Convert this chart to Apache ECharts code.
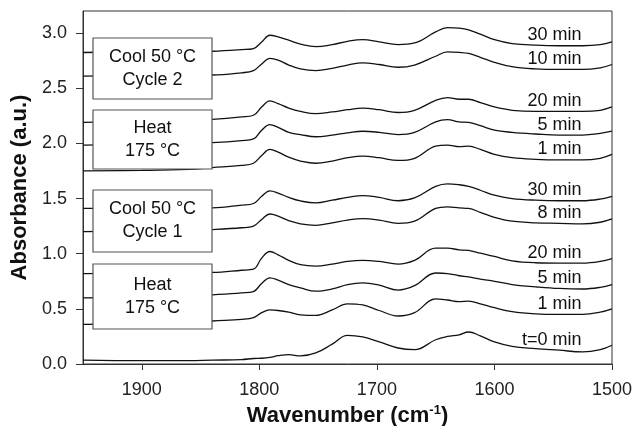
<!DOCTYPE html>
<html lang="en">
<head>
<meta charset="UTF-8" />
<title>FTIR spectra</title>
<script src="https://cdn.jsdelivr.net/npm/echarts@6/dist/echarts.min.js"></script>
</head>
<body style="margin:0">
<div id="main" style="width:635px;height:426px"></div>
<script>
// wavenumber grid (cm-1) shared by all spectra
const wavenumbers = [1950, 1900, 1860, 1840, 1815, 1805, 1798, 1791, 1784, 1775, 1765, 1752, 1738, 1725, 1712, 1698, 1682, 1668, 1650, 1640, 1630, 1622, 1612, 1600, 1585, 1565, 1545, 1525, 1510, 1500];

const cool2_30 = [2.824, 2.83, 2.832, 2.835, 2.85, 2.86, 2.92, 2.98, 2.965, 2.935, 2.90, 2.877, 2.895, 2.925, 2.94, 2.92, 2.895, 2.91, 3.01, 3.05, 3.045, 3.03, 2.99, 2.94, 2.905, 2.89, 2.885, 2.885, 2.895, 2.92];
const cool2_10 = [2.61, 2.615, 2.62, 2.62, 2.64, 2.66, 2.72, 2.77, 2.755, 2.71, 2.675, 2.66, 2.68, 2.71, 2.73, 2.715, 2.69, 2.71, 2.79, 2.83, 2.825, 2.815, 2.78, 2.735, 2.695, 2.675, 2.67, 2.67, 2.685, 2.715];
const heat2_20 = [2.19, 2.20, 2.21, 2.218, 2.24, 2.255, 2.33, 2.385, 2.36, 2.32, 2.29, 2.27, 2.285, 2.305, 2.32, 2.305, 2.28, 2.30, 2.39, 2.415, 2.40, 2.40, 2.37, 2.33, 2.30, 2.29, 2.29, 2.29, 2.30, 2.33];
const heat2_5 = [1.985, 1.99, 2.0, 2.006, 2.025, 2.04, 2.12, 2.17, 2.145, 2.10, 2.08, 2.06, 2.075, 2.095, 2.11, 2.10, 2.08, 2.10, 2.195, 2.215, 2.195, 2.19, 2.16, 2.12, 2.10, 2.085, 2.075, 2.075, 2.09, 2.11];
const heat2_1 = [1.75, 1.755, 1.765, 1.78, 1.80, 1.82, 1.89, 1.945, 1.92, 1.875, 1.84, 1.82, 1.84, 1.87, 1.885, 1.87, 1.845, 1.865, 1.975, 1.985, 1.97, 1.975, 1.945, 1.90, 1.87, 1.855, 1.85, 1.85, 1.865, 1.90];
const cool1_30 = [1.41, 1.41, 1.413, 1.415, 1.44, 1.455, 1.52, 1.57, 1.55, 1.51, 1.478, 1.46, 1.485, 1.51, 1.527, 1.51, 1.48, 1.505, 1.61, 1.633, 1.625, 1.61, 1.575, 1.53, 1.50, 1.485, 1.48, 1.48, 1.495, 1.52];
const cool1_8 = [1.20, 1.205, 1.21, 1.218, 1.235, 1.25, 1.31, 1.36, 1.34, 1.30, 1.27, 1.257, 1.28, 1.305, 1.318, 1.305, 1.275, 1.295, 1.41, 1.425, 1.415, 1.41, 1.375, 1.33, 1.295, 1.28, 1.275, 1.27, 1.285, 1.315];
const heat1_20 = [0.82, 0.822, 0.828, 0.83, 0.85, 0.86, 0.96, 1.02, 0.99, 0.94, 0.90, 0.887, 0.905, 0.93, 0.94, 0.93, 0.906, 0.94, 1.05, 1.05, 1.035, 1.03, 1.005, 0.975, 0.935, 0.918, 0.915, 0.915, 0.93, 0.955];
const heat1_5 = [0.60, 0.605, 0.615, 0.627, 0.645, 0.657, 0.73, 0.78, 0.76, 0.72, 0.69, 0.66, 0.68, 0.72, 0.735, 0.715, 0.67, 0.71, 0.825, 0.82, 0.80, 0.79, 0.77, 0.75, 0.72, 0.70, 0.685, 0.68, 0.695, 0.72];
const heat1_1 = [0.36, 0.365, 0.375, 0.39, 0.405, 0.42, 0.465, 0.49, 0.485, 0.47, 0.445, 0.44, 0.49, 0.545, 0.535, 0.485, 0.435, 0.465, 0.59, 0.58, 0.565, 0.57, 0.545, 0.51, 0.475, 0.455, 0.45, 0.45, 0.47, 0.50];
const t0 = [0.036, 0.03, 0.03, 0.035, 0.04, 0.05, 0.052, 0.06, 0.075, 0.085, 0.073, 0.10, 0.18, 0.26, 0.245, 0.20, 0.145, 0.13, 0.22, 0.25, 0.265, 0.29, 0.255, 0.20, 0.16, 0.14, 0.125, 0.11, 0.13, 0.17];

const spectra = [cool2_30, cool2_10, heat2_20, heat2_5, heat2_1, cool1_30, cool1_8, heat1_20, heat1_5, heat1_1, t0];
const curveLabels = ["30 min", "10 min", "20 min", "5 min", "1 min", "30 min", "8 min", "20 min", "5 min", "1 min", "t=0 min"];
const boxTexts = ["Cool 50 °C\nCycle 2", "Heat\n175 °C", "Cool 50 °C\nCycle 1", "Heat\n175 °C"];
const xTicks = [1500, 1600, 1700, 1800, 1900];
const yTicks = [0, 0.5, 1, 1.5, 2, 2.5, 3];

const font = "'Liberation Sans', Arial, sans-serif";

let myChart = echarts.init(document.getElementById("main"));

let options = {
  animation: false,
  grid: { left: 83, right: 23, top: 11, bottom: 62, outerBoundsMode: "none", show: true, borderColor: "#333", borderWidth: 1 },
  xAxis: {
    type: "value",
    min: 1500,
    max: 1950,
    inverse: true,
    name: "{a|Wavenumber (cm}{s|-1}{a|)}",
    nameLocation: "middle",
    nameGap: 40,
    nameTextStyle: {
      rich: {
        a: { fontFamily: font, fontSize: 22, fontWeight: "bold", color: "#111" },
        s: { fontFamily: font, fontSize: 13, fontWeight: "bold", color: "#111", verticalAlign: "top", padding: [0, 0, 10, 0] }
      }
    },
    splitLine: { show: false },
    axisLine: { onZero: false, lineStyle: { color: "#333" } },
    axisTick: { customValues: xTicks, length: 6, lineStyle: { color: "#333" } },
    axisLabel: { customValues: xTicks, margin: 17, fontFamily: font, fontSize: 18, color: "#222", formatter: (v) => String(v) }
  },
  yAxis: {
    type: "value",
    min: 0,
    max: 3.2,
    name: "Absorbance (a.u.)",
    nameLocation: "middle",
    nameGap: 50,
    nameTextStyle: { fontFamily: font, fontSize: 22, fontWeight: "bold", color: "#111" },
    splitLine: { show: false },
    axisLine: { show: true, onZero: false, lineStyle: { color: "#333" } },
    axisTick: { show: true, customValues: yTicks, length: 7, lineStyle: { color: "#333" } },
    axisLabel: { customValues: yTicks, margin: 16, fontFamily: font, fontSize: 18, color: "#222", formatter: (v) => v.toFixed(1) }
  },
  series: spectra.map((vals, k) => ({
    name: curveLabels[k],
    type: "line",
    data: wavenumbers.map((w, i) => [w, vals[i]]),
    smooth: 0.4,
    showSymbol: false,
    lineStyle: { color: "#111", width: 1.3 }
  }))
};
myChart.setOption(options);

// curve labels sit just above each spectrum near 1545 cm-1, right-aligned
let at = wavenumbers.indexOf(1545);
let graphics = spectra.map((vals, k) => {
  let p = myChart.convertToPixel({ gridIndex: 0 }, [1526, vals[at]]);
  return {
    type: "text",
    z: 100,
    x: p[0],
    y: p[1] - 10.5,
    style: { text: curveLabels[k], align: "right", verticalAlign: "middle", fontFamily: font, fontSize: 18, fill: "#111" }
  };
});

// condition boxes on the left
const boxTops = [38, 110, 190, 264];
const boxHeights = [61, 59, 62, 65];
boxTexts.forEach((t, k) => {
  graphics.push({
    type: "rect",
    z: 100,
    shape: { x: 93, y: boxTops[k], width: 119, height: boxHeights[k] },
    style: { fill: "#fff", stroke: "#555", lineWidth: 1.2 }
  });
  graphics.push({
    type: "text",
    z: 101,
    x: 152.5,
    y: boxTops[k] + boxHeights[k] / 2,
    style: { text: t, align: "center", verticalAlign: "middle", fontFamily: font, fontSize: 18, lineHeight: 23, fill: "#111" }
  });
});
myChart.setOption({ graphic: graphics });
</script>
</body>
</html>
